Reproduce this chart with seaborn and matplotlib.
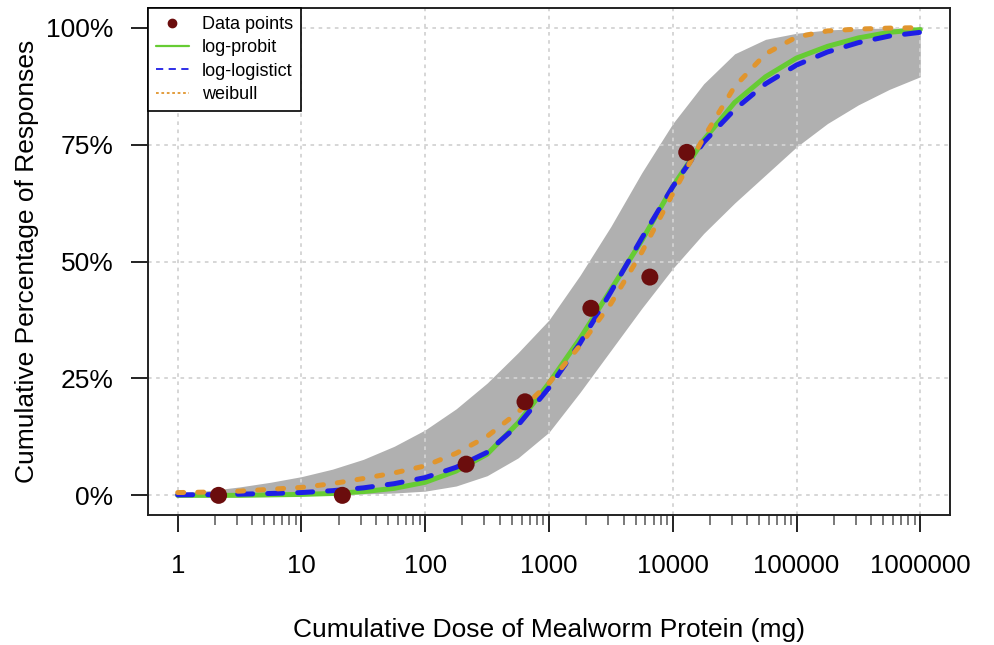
import matplotlib
matplotlib.use("Agg")
from matplotlib import pyplot as plt
from matplotlib.lines import Line2D
from matplotlib.ticker import FixedLocator, FixedFormatter, NullFormatter
import seaborn as sns
import numpy as np
import pandas as pd

# observed data
dose_obs = [2.14, 21.4, 214, 640, 2180, 6530, 12970]
pct_obs = [0.0, 0.0, 6.67, 20.0, 40.0, 46.67, 73.33]

# fitted curves at quarter-decade steps
log_dose = [0, 0.25, 0.5, 0.75, 1, 1.25, 1.5, 1.75, 2, 2.25, 2.5, 2.75, 3,
            3.25, 3.5, 3.75, 4, 4.25, 4.5, 4.75, 5, 5.25, 5.5, 5.75, 6]
log_probit = [0.0, 0.0, 0.0, 0.1, 0.2, 0.4, 0.8, 1.5, 2.8, 5.2, 8.8, 15.5, 24.0,
              33.5, 44.0, 54.5, 66.0, 76.0, 84.0, 89.5, 93.5, 96.0, 97.8, 99.0, 99.6]
log_logistic = [0.1, 0.15, 0.25, 0.4, 0.6, 1.0, 1.6, 2.5, 3.8, 6.0, 9.2, 15.0, 23.0,
                32.5, 43.5, 55.0, 66.0, 75.5, 82.5, 88.0, 92.0, 94.8, 96.8, 98.2, 99.0]
weibull = [0.6, 0.7, 0.9, 1.3, 1.7, 2.5, 3.6, 4.8, 6.3, 9.0, 12.6, 17.8, 24.0,
           32.0, 41.0, 52.0, 64.5, 76.5, 87.4, 94.4, 98.0, 99.3, 99.7, 99.9, 100.0]
band_upper = [0.5, 1.0, 1.8, 2.8, 4.0, 5.6, 7.7, 10.5, 14.0, 18.5, 24.0, 30.5, 37.5,
              47.0, 57.5, 69.0, 79.5, 88.0, 94.4, 97.5, 98.8, 99.5, 99.8, 99.9, 100.0]
band_lower = [0.0, 0.0, 0.0, 0.05, 0.1, 0.2, 0.3, 0.5, 0.9, 2.0, 4.2, 8.0, 13.5,
              22.0, 31.0, 40.0, 48.5, 56.0, 62.5, 68.5, 74.5, 79.5, 83.5, 86.8, 89.5]

model_names = ["log-probit", "log-logistict", "weibull"]
model_colors = {"log-probit": "#66CC33", "log-logistict": "#1E1EE6", "weibull": "#E0952E"}
model_dashes = {"log-probit": "", "log-logistict": (3, 3), "weibull": (1.2, 2.8)}

dose_grid = 10 ** np.array(log_dose)
curves = pd.DataFrame({
    "dose": np.tile(dose_grid, 3),
    "pct": log_probit + log_logistic + weibull,
    "model": np.repeat(model_names, len(log_dose)),
})
obs = pd.DataFrame({"dose": dose_obs, "pct": pct_obs})

sns.set_style("white")
plt.rcParams["font.family"] = ["Liberation Sans", "DejaVu Sans"]
plt.rcParams["text.color"] = "black"
plt.rcParams["axes.labelcolor"] = "black"

fig = plt.figure(figsize=(9.94, 6.45), dpi=100)
ax = fig.add_axes([148 / 994, 130 / 645, 802 / 994, 507 / 645])
ax.set_xscale("log")

ax.fill_between(dose_grid, band_lower, band_upper, color="#B0B0B0", lw=0, zorder=1)

xt = [1, 10, 100, 1000, 10000, 100000, 1000000]
for v in xt:
    ax.axvline(v, color="#D3D3D3", lw=1.3, ls=(0, (2, 2.5)), zorder=2)
for v in [0, 25, 50, 75, 100]:
    ax.axhline(v, color="#D3D3D3", lw=1.3, ls=(0, (2, 2.5)), zorder=2)
n_grid = len(ax.lines)

sns.lineplot(data=curves, x="dose", y="pct", hue="model", style="model",
             palette=model_colors, dashes=model_dashes, linewidth=3.6,
             legend=False, ax=ax, zorder=3)
for ln in ax.lines[n_grid:]:
    ln.set_dash_capstyle("round")
    ln.set_solid_capstyle("round")
    ln.set_solid_joinstyle("round")

sns.scatterplot(data=obs, x="dose", y="pct", color="#6B0D0D", s=150,
                edgecolor="none", ax=ax, zorder=4)

ax.set_xlim(10 ** -0.24, 10 ** 6.24)
ax.set_ylim(-4.2, 104.2)

minor = [m * 10 ** e for e in range(6) for m in range(2, 10)]
ax.xaxis.set_major_locator(FixedLocator(xt))
ax.xaxis.set_major_formatter(FixedFormatter([str(v) for v in xt]))
ax.xaxis.set_minor_locator(FixedLocator(minor))
ax.xaxis.set_minor_formatter(NullFormatter())
ax.set_yticks([0, 25, 50, 75, 100])
ax.set_yticklabels(["0%", "25%", "50%", "75%", "100%"])

ax.tick_params(axis="x", which="major", length=12, width=1.4, color="#222222",
               labelsize=18.5, labelcolor="black", pad=16, bottom=True)
ax.tick_params(axis="x", which="minor", length=7, width=1.1, color="#555555", bottom=True)
ax.tick_params(axis="y", which="major", length=12, width=1.4, color="#222222",
               labelsize=19, labelcolor="black", pad=13, left=True)

for s in ax.spines.values():
    s.set_color("#222222")
    s.set_linewidth(1.4)

ax.set_xlabel("Cumulative Dose of Mealworm Protein (mg)", fontsize=19, labelpad=29)
ax.set_ylabel("Cumulative Percentage of Responses", fontsize=19, labelpad=5)

handles = [
    Line2D([], [], ls="none", marker="o", markersize=6, color="#6B0D0D"),
    Line2D([], [], color=model_colors["log-probit"], lw=1.6),
    Line2D([], [], color=model_colors["log-logistict"], lw=1.3, ls=(0, (4, 3))),
    Line2D([], [], color=model_colors["weibull"], lw=1.3, ls=(0, (1.5, 1.5))),
]
leg = ax.legend(handles, ["Data points"] + model_names, loc="upper left",
                bbox_to_anchor=(0, 1), borderaxespad=0, fontsize=13,
                frameon=True, fancybox=False, framealpha=1, edgecolor="black",
                handlelength=1.8, handletextpad=0.75, labelspacing=0.35,
                borderpad=0.45)
leg.get_frame().set_linewidth(1.2)
leg.set_zorder(5)

fig.savefig("out.png", dpi=100)
